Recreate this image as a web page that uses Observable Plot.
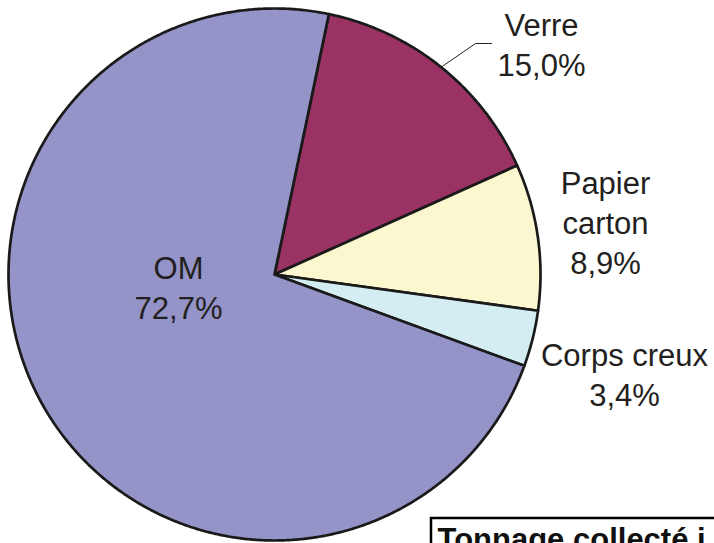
<!DOCTYPE html>
<html>
<head>
<meta charset="utf-8">
<script src="https://cdn.jsdelivr.net/npm/d3@7"></script>
<script src="https://cdn.jsdelivr.net/npm/@observablehq/plot@0.6"></script>
<style>
  html, body { margin: 0; padding: 0; background: #fff; overflow: hidden; }
</style>
</head>
<body>
<div id="chart"></div>
<script>
// ---- data ----
const categories = ["Verre", "Papier carton", "Corps creux", "OM"];
const values = [15.0, 8.9, 3.4, 72.7];
const valueLabels = ["15,0%", "8,9%", "3,4%", "72,7%"];
const colors = ["#9A3264", "#FBF8CF", "#D3EDF3", "#9494C8"];
const boxText = "Tonnage collecté i";

// ---- layout ----
const W = 714, H = 543;
const cx = 274, cy = 274, R = 266;
const startDeg = 11.8;           // first slice (Verre) starts here, clockwise from north
const fontSize = 31;
const lineGap = 40;
const textColor = "#231F20";
// label anchors (center x, baseline y of last line)
const labelAnchor = {
  "Verre": [541, 75],
  "Papier carton": [605, 273],
  "Corps creux": [624, 405],
  "OM": [178, 318]
};
const labelText = {
  "Verre": "Verre",
  "Papier carton": "Papier\ncarton",
  "Corps creux": "Corps creux",
  "OM": "OM"
};

// ---- slice polygons from the values ----
const total = d3.sum(values);
const rad = d => d * Math.PI / 180;
const slicePts = [];
const mids = {};
let acc = startDeg;
categories.forEach((c, i) => {
  const a0 = acc, a1 = acc + values[i] / total * 360;
  acc = a1;
  mids[c] = (a0 + a1) / 2;
  slicePts.push({cat: c, x: cx, y: cy});
  const n = Math.max(2, Math.ceil((a1 - a0) / 0.4));
  for (let k = 0; k <= n; k++) {
    const a = rad(a0 + (a1 - a0) * k / n);
    slicePts.push({cat: c, x: cx + R * Math.sin(a), y: cy - R * Math.cos(a)});
  }
  slicePts.push({cat: c, x: cx, y: cy});
});

const labels = categories.map((c, i) => ({
  cat: c,
  x: labelAnchor[c][0],
  y: labelAnchor[c][1],
  text: labelText[c] + "\n" + valueLabels[i]
}));

// leader line for Verre
const am = rad(mids["Verre"]);
const leader = [
  {x: cx + R * Math.sin(am), y: cy - R * Math.cos(am)},
  {x: 475, y: 43},
  {x: 491, y: 43}
];

const chart = Plot.plot({
  width: W, height: H,
  margin: 0,
  x: {domain: [0, W], axis: null},
  y: {domain: [0, H], reverse: true, axis: null},
  color: {domain: categories, range: colors},
  style: {background: "#fff", overflow: "hidden", fontFamily: "'Liberation Sans', Arial, sans-serif"},
  marks: [
    Plot.line(slicePts, {
      x: "x", y: "y", z: "cat", fill: "cat",
      stroke: "#1a1a1a", strokeWidth: 2.7, strokeLinejoin: "round"
    }),
    Plot.line(leader, {x: "x", y: "y", stroke: textColor, strokeWidth: 1}),
    Plot.text(labels, {
      x: "x", y: "y", text: "text",
      fontSize, lineHeight: lineGap / fontSize, lineAnchor: "bottom",
      textAnchor: "middle", fill: textColor,
      fontFamily: "'Liberation Sans', Arial, sans-serif"
    }),
    Plot.rect([{x1: 431, x2: 760, y1: 518, y2: 580}], {
      x1: "x1", x2: "x2", y1: "y1", y2: "y2",
      fill: "#fff", stroke: "#000", strokeWidth: 2.5
    }),
    Plot.text([{x: 437, y: 549, t: boxText}], {
      x: "x", y: "y", text: "t", textAnchor: "start", lineAnchor: "bottom",
      fontSize, fontWeight: "bold", fill: "#111",
      fontFamily: "'Liberation Sans', Arial, sans-serif"
    })
  ]
});
document.getElementById("chart").appendChild(chart);
</script>
</body>
</html>
